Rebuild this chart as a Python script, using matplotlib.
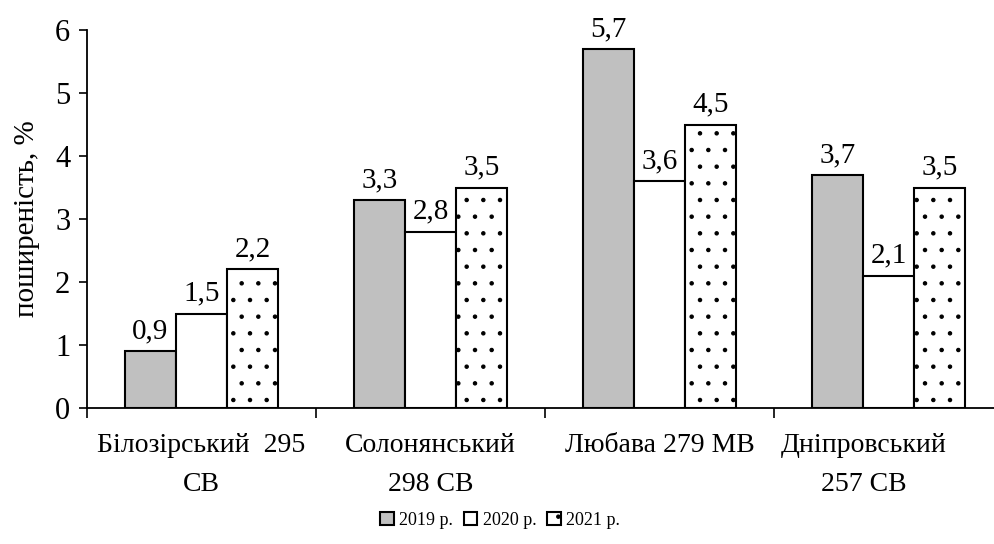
import matplotlib.pyplot as plt
import matplotlib.transforms as mtransforms
import numpy as np

plt.rcParams['font.family'] = ['Liberation Serif', 'DejaVu Serif']
plt.rcParams['hatch.linewidth'] = 0.8

sorti = ['Білозірський  295\nСВ', 'Солонянський\n298 СВ', 'Любава 279 МВ', 'Дніпровський\n257 СВ']
roky = ['2019 р.', '2020 р.', '2021 р.']
v2019 = [0.9, 3.3, 5.7, 3.7]
v2020 = [1.5, 2.8, 3.6, 2.1]
v2021 = [2.2, 3.5, 4.5, 3.5]

fig = plt.figure(figsize=(9.94, 5.44), dpi=100)
ax = fig.add_axes([87/994, 136/544, 916/994, 378/544])

x = np.arange(len(sorti))
w = 0.223
kolory = ['#c0c0c0', 'white', 'white']
shtrih = [None, None, '.']
for i, vals in enumerate([v2019, v2020, v2021]):
    bars = ax.bar(x + (i - 1) * w, vals, w, color=kolory[i], edgecolor='black',
                  linewidth=1.5, hatch=shtrih[i], label=roky[i])
    for b, v in zip(bars, vals):
        ax.annotate(f'{v:.1f}'.replace('.', ','), (b.get_x() + b.get_width() / 2, v),
                    xytext=(0, 5), textcoords='offset points', ha='center', va='bottom',
                    fontsize=21)

ax.set_xlim(-0.5, 3.5)
ax.set_ylim(0, 6)
ax.set_yticks(range(0, 7))
ax.tick_params(axis='y', labelsize=22, length=6, width=1.2, direction='out', pad=6)
ax.set_xticks(x)
ax.set_xticklabels(sorti, fontsize=20, linespacing=1.75)
ax.tick_params(axis='x', which='major', length=0, pad=18)
ax.set_xticks(np.arange(-0.5, 3.6, 1), minor=True)
ax.tick_params(axis='x', which='minor', length=7, width=1.2, direction='out')
# last label shifted left, as in the original
lab = ax.get_xticklabels()[-1]
lab.set_transform(lab.get_transform() + mtransforms.ScaledTranslation(-0.25, 0, fig.dpi_scale_trans))

for s in ['top', 'right']:
    ax.spines[s].set_visible(False)
for s in ['left', 'bottom']:
    ax.spines[s].set_linewidth(1.3)

ax.set_ylabel('поширеність, %', fontsize=21, labelpad=11)

fig.legend(loc='center', bbox_to_anchor=(0.503, 0.043), ncol=3, frameon=False,
           fontsize=13, handlelength=0.75, handleheight=0.75, handletextpad=0.3,
           columnspacing=0.6)

fig.savefig('out.png', dpi=100)
